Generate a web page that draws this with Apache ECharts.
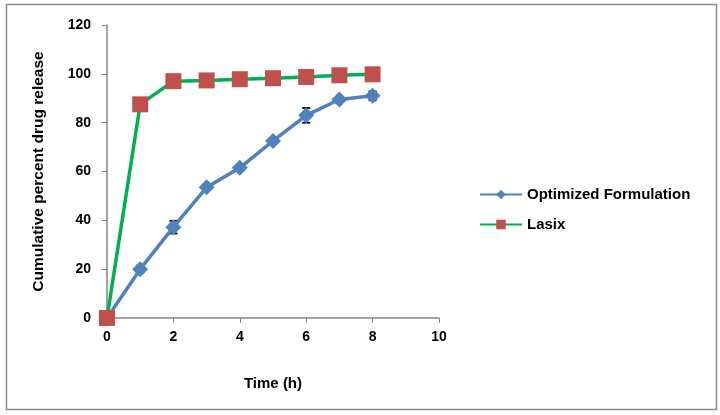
<!DOCTYPE html>
<html>
<head>
<meta charset="utf-8">
<script src="https://cdn.jsdelivr.net/npm/echarts@6/dist/echarts.min.js"></script>
<style>html,body{margin:0;padding:0;background:#fff;}#c{width:720px;height:415px;}</style>
</head>
<body>
<div id="c"></div>
<script>
var timeH = [0, 1, 2, 3, 4, 5, 6, 7, 8];
var optimized = [0, 20, 37.2, 53.5, 61.5, 72.5, 83, 89.5, 91];
var optimizedErr = [0, 1.5, 2.6, 1, 1.2, 1, 3, 1, 1.8];
var lasix = [0, 87.5, 97, 97.3, 97.8, 98.2, 98.7, 99.4, 99.8];
var xTicks = [0, 2, 4, 6, 8, 10];
var yTicks = [0, 20, 40, 60, 80, 100, 120];

var chart = echarts.init(document.getElementById('c'));
var font = 'Liberation Sans, Arial, sans-serif';
var optData = timeH.map(function (t, i) { return [t, optimized[i]]; });
var lasData = timeH.map(function (t, i) { return [t, lasix[i]]; });
var errData = timeH.map(function (t, i) { return [t, optimized[i] - optimizedErr[i], optimized[i] + optimizedErr[i]]; })
  .filter(function (d, i) { return optimizedErr[i] > 0; });

chart.setOption({
  animation: false,
  backgroundColor: '#fff',
  graphic: [{
    type: 'rect', shape: { x: 6.5, y: 4.5, width: 710, height: 405 },
    style: { fill: 'none', stroke: '#8c8c8c', lineWidth: 1.5 }, silent: true
  }],
  grid: { left: 107, right: 281, top: 25, bottom: 97, containLabel: false },
  legend: {
    orient: 'vertical', left: 474, top: 182, itemGap: 15,
    itemWidth: 42, itemHeight: 12,
    textStyle: { fontFamily: font, fontWeight: 'bold', fontSize: 15, color: '#000' },
    data: ['Optimized Formulation', 'Lasix']
  },
  xAxis: {
    type: 'value', min: 0, max: 10, interval: 2,
    name: 'Time (h)', nameLocation: 'middle', nameGap: 58,
    nameTextStyle: { fontFamily: font, fontWeight: 'bold', fontSize: 15, color: '#000' },
    axisLine: { lineStyle: { color: '#868686', width: 1.5 } },
    axisTick: { show: true, length: 5, lineStyle: { color: '#868686' } },
    axisLabel: { fontFamily: font, fontWeight: 'bold', fontSize: 14, color: '#000', margin: 12 },
    splitLine: { show: false }
  },
  yAxis: {
    type: 'value', min: 0, max: 120, interval: 20,
    name: 'Cumulative percent drug release', nameLocation: 'middle', nameGap: 60,
    nameTextStyle: { fontFamily: font, fontWeight: 'bold', fontSize: 15.5, color: '#000' },
    axisLine: { show: true, lineStyle: { color: '#868686', width: 1.5 } },
    axisTick: { show: true, length: 5, lineStyle: { color: '#868686' } },
    axisLabel: { fontFamily: font, fontWeight: 'bold', fontSize: 14, color: '#000', margin: 16 },
    splitLine: { show: false }
  },
  series: [
    {
      name: 'err', type: 'custom', data: errData, z: 2,
      renderItem: function (params, api) {
        var x = api.value(0);
        var lo = api.coord([x, api.value(1)]);
        var hi = api.coord([x, api.value(2)]);
        var w = 4;
        return {
          type: 'group',
          children: [
            { type: 'line', shape: { x1: lo[0], y1: lo[1], x2: hi[0], y2: hi[1] }, style: { stroke: '#000', lineWidth: 1.2 } },
            { type: 'line', shape: { x1: lo[0] - w, y1: lo[1], x2: lo[0] + w, y2: lo[1] }, style: { stroke: '#000', lineWidth: 1.8 } },
            { type: 'line', shape: { x1: hi[0] - w, y1: hi[1], x2: hi[0] + w, y2: hi[1] }, style: { stroke: '#000', lineWidth: 1.8 } }
          ]
        };
      },
      encode: { x: 0, y: [1, 2] }
    },
    {
      name: 'Optimized Formulation', type: 'line', data: optData,
      lineStyle: { color: '#4F81BD', width: 3.5 },
      itemStyle: { color: '#4F81BD' },
      symbol: 'diamond', symbolSize: 16, showAllSymbol: true, z: 3
    },
    {
      name: 'Lasix', type: 'line', data: lasData,
      lineStyle: { color: '#00B050', width: 3.5 },
      itemStyle: { color: '#C0504D' },
      symbol: 'rect', symbolSize: 16, showAllSymbol: true, z: 4
    }
  ]
});
</script>
</body>
</html>
